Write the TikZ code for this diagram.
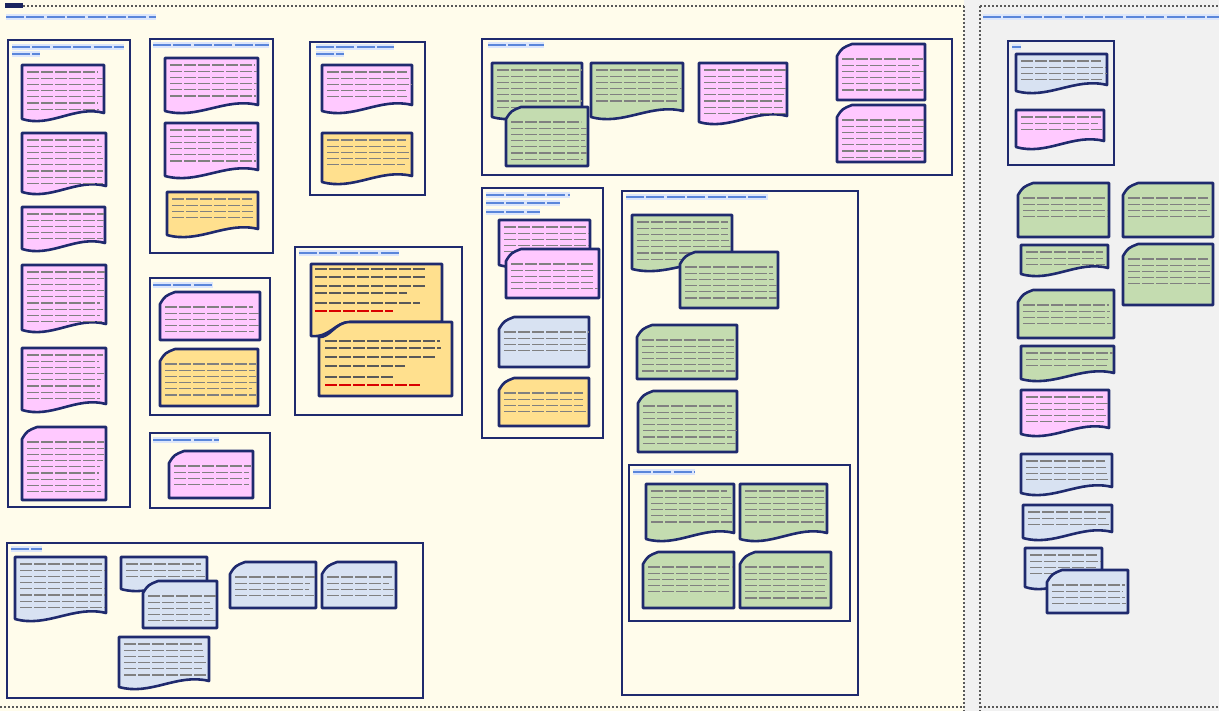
\documentclass[tikz,border=0pt]{standalone}
\definecolor{cream}{HTML}{FFFCEB}
\definecolor{rgray}{HTML}{F1F1F1}
\definecolor{navy}{HTML}{1F2A6E}
\definecolor{npink}{HTML}{FFC9FF}
\definecolor{ngreen}{HTML}{C4DCB0}
\definecolor{nyellow}{HTML}{FFE08E}
\definecolor{nblue}{HTML}{D8E2F2}
\definecolor{ttl}{HTML}{5A86DA}
\definecolor{ttlbg}{HTML}{DCE6FB}
\tikzset{
 frame/.style={draw=navy, line width=1.25pt},
 note/.style={draw=navy, line width=1.3pt, line join=round},
 tl/.style={draw=black!50, line width=0.55pt, dash pattern=on 6pt off 1pt},
 rl/.style={draw=red!85!black, line width=0.7pt, dash pattern=on 6pt off 1pt},
 tt/.style={draw=ttl, line width=0.9pt, dash pattern=on 9pt off 1.2pt},
 dotln/.style={draw=black!65, line width=0.9pt, dash pattern=on 0.9pt off 1.1pt},
}
\newcommand\TxtL[4]{\foreach \i in {1,...,#3}{\pgfmathsetmacro\len{#4*(0.45+0.55*rnd)}\draw[tl] (#1,{#2+(\i-1)*6.2}) -- ++(\len,0);}}
\newcommand\Doc[6]{\filldraw[note,fill=#1] (#2,#3) -- (#4,#3) -- (#4,{#5-9}) .. controls ({#2+0.65*(#4-#2)},{#5-17}) and ({#2+0.35*(#4-#2)},{#5+6}) .. (#2,{#5-3}) -- cycle;
 \TxtL{#2+5}{#3+7}{#6}{#4-#2-12}}
\newcommand\Card[6]{\filldraw[note,fill=#1] ({#2+15},#3) -- (#4,#3) -- (#4,#5) -- (#2,#5) -- (#2,{#3+12}) .. controls ({#2+5},{#3+4}) .. ({#2+15},#3) -- cycle;
 \TxtL{#2+5}{#3+15}{#6}{#4-#2-12}}
\newcommand\Ttl[3]{\fill[ttlbg] (#1,{#2-3}) rectangle ({#1+#3},{#2+3}); \draw[tt] (#1,#2) -- ++(#3,0);}
\begin{document}
\begin{tikzpicture}[x=0.5pt,y=-0.5pt]
\pgfmathsetseed{7}
\useasboundingbox (0,0) rectangle (1219,711);
% backgrounds
\fill[cream] (0,0) rectangle (964,711);
\fill[rgray] (964,0) rectangle (1219,711);
\fill[navy!85!black] (5,3) rectangle (23,8);
\draw[dotln] (23,6) -- (964,6);
\draw[dotln] (964,6) -- (964,711);
\draw[dotln] (0,707) -- (964,707);
\draw[dotln] (980,6) -- (1219,6);
\draw[dotln] (980,6) -- (980,711);
\draw[dotln] (980,707) -- (1219,707);
% page titles
\Ttl{6}{17}{150}
\Ttl{983}{17}{236}

% ---------- F1 ----------
\draw[frame] (8,40) rectangle (130,507);
\Ttl{12}{47}{112} \Ttl{12}{54}{28}
\Doc{npink}{22}{65}{104}{122}{7}
\Doc{npink}{22}{133}{106}{195}{8}
\Doc{npink}{22}{207}{105}{252}{5}
\Doc{npink}{22}{265}{106}{333}{9}
\Doc{npink}{22}{348}{106}{413}{8}
\Card{npink}{22}{427}{106}{500}{9}

% ---------- F2 ----------
\draw[frame] (150,39) rectangle (273,253);
\Ttl{153}{45}{116}
\Doc{npink}{165}{58}{258}{114}{6}
\Doc{npink}{165}{123}{258}{179}{6}
\Doc{nyellow}{167}{192}{258}{238}{4}

% ---------- F3 ----------
\draw[frame] (310,42) rectangle (425,195);
\Ttl{316}{47}{78} \Ttl{316}{54}{28}
\Doc{npink}{322}{65}{412}{114}{5}
\Doc{nyellow}{322}{133}{412}{185}{5}

% ---------- F4 ----------
\draw[frame] (482,39) rectangle (952,175);
\Ttl{488}{45}{56}
\Doc{ngreen}{492}{63}{582}{120}{7}
\Doc{ngreen}{591}{63}{683}{120}{6}
\Card{ngreen}{506}{107}{588}{166}{7}
\Doc{npink}{699}{63}{787}{125}{8}
\Card{npink}{837}{44}{925}{100}{6}
\Card{npink}{837}{105}{925}{162}{7}

% ---------- F5, F6 ----------
\draw[frame] (150,278) rectangle (270,415);
\Ttl{153}{285}{60}
\Card{npink}{160}{292}{260}{340}{5}
\Card{nyellow}{160}{349}{258}{406}{6}
\draw[frame] (150,433) rectangle (270,508);
\Ttl{153}{440}{66}
\Card{npink}{169}{451}{253}{498}{4}

% ---------- F7 ----------
\draw[frame] (295,247) rectangle (462,415);
\Ttl{299}{253}{100}
\filldraw[note,fill=nyellow] (311,264) -- (442,264) -- (442,322) -- (350,322) .. controls (335,322) and (330,338) .. (311,336) -- cycle;
\foreach \yy/\ww in {269/112,277/112,286/110,293/92,303/105}{\draw[tl,draw=black!65] (315,\yy) -- ++(\ww,0);}
\draw[rl] (315,311) -- ++(78,0);
\filldraw[note,fill=nyellow] (350,322) -- (452,322) -- (452,396) -- (319,396) -- (319,337) .. controls (330,338) and (335,322) .. (350,322) -- cycle;
\foreach \yy/\ww in {341/115,348/116,357/110,366/80,377/70}{\draw[tl,draw=black!65] (325,\yy) -- ++(\ww,0);}
\draw[rl] (325,385) -- ++(95,0);

% ---------- F8 ----------
\draw[frame] (482,188) rectangle (603,438);
\Ttl{486}{195}{84} \Ttl{486}{203}{74} \Ttl{486}{212}{54}
\Doc{npink}{499}{220}{590}{268}{5}
\Card{npink}{506}{249}{599}{298}{5}
\Card{nblue}{499}{317}{589}{367}{4}
\Card{nyellow}{499}{378}{589}{426}{4}

% ---------- F9 ----------
\draw[frame] (622,191) rectangle (858,695);
\Ttl{626}{197}{142}
\Doc{ngreen}{632}{215}{732}{272}{7}
\Card{ngreen}{680}{252}{778}{308}{6}
\Card{ngreen}{637}{325}{737}{379}{6}
\Card{ngreen}{638}{391}{737}{452}{7}
\draw[frame] (629,465) rectangle (850,621);
\Ttl{633}{472}{62}
\Doc{ngreen}{646}{484}{734}{542}{6}
\Doc{ngreen}{740}{484}{827}{542}{6}
\Card{ngreen}{643}{552}{734}{608}{5}
\Card{ngreen}{740}{552}{831}{608}{6}

% ---------- F10 ----------
\draw[frame] (7,543) rectangle (423,698);
\Ttl{11}{549}{31}
\Doc{nblue}{15}{557}{106}{622}{8}
\Doc{nblue}{121}{557}{207}{592}{3}
\Card{nblue}{143}{581}{217}{628}{5}
\Card{nblue}{230}{562}{316}{608}{4}
\Card{nblue}{322}{562}{396}{608}{4}
\Doc{nblue}{119}{637}{209}{690}{6}

% ---------- right side ----------
\draw[frame] (1008,41) rectangle (1114,165);
\Ttl{1012}{47}{9}
\Doc{nblue}{1016}{54}{1107}{94}{4}
\Doc{npink}{1016}{110}{1104}{150}{3}
\Card{ngreen}{1018}{183}{1109}{237}{4}
\Card{ngreen}{1123}{183}{1213}{237}{4}
\Doc{ngreen}{1021}{245}{1108}{277}{3}
\Card{ngreen}{1123}{244}{1213}{305}{5}
\Card{ngreen}{1018}{290}{1114}{338}{4}
\Doc{ngreen}{1021}{346}{1114}{382}{3}
\Doc{npink}{1021}{390}{1109}{437}{5}
\Doc{nblue}{1021}{454}{1112}{496}{4}
\Doc{nblue}{1023}{505}{1112}{541}{3}
\Doc{nblue}{1025}{548}{1102}{590}{4}
\Card{nblue}{1047}{570}{1128}{613}{4}
\end{tikzpicture}
\end{document}
